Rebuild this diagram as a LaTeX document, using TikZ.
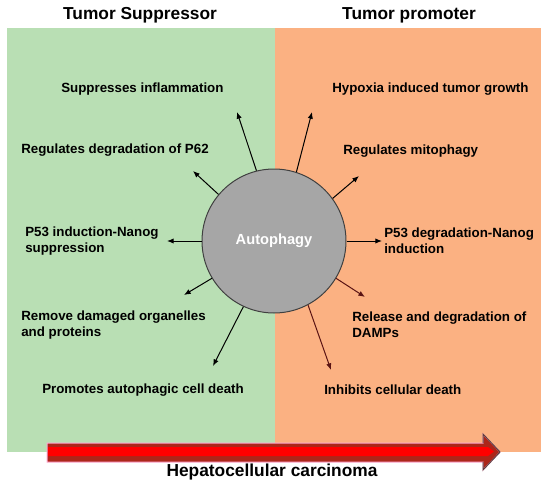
\documentclass[tikz,border=0pt]{standalone}
\usepackage{fontspec}
\setmainfont{Liberation Sans}
\usetikzlibrary{arrows.meta}
\definecolor{panelgreen}{RGB}{185,223,180}
\definecolor{panelorange}{RGB}{251,177,130}
\definecolor{circlegray}{RGB}{166,166,166}
\definecolor{bandred}{RGB}{255,0,0}
\definecolor{bodyred}{RGB}{172,38,26}
\definecolor{glowpink}{RGB}{255,170,210}
\definecolor{headline}{RGB}{95,65,65}
\definecolor{darkarrow}{RGB}{90,20,20}

\begin{document}
\begin{tikzpicture}[x=0.75pt, y=-0.75pt,
    effect/.style={font=\fontsize{10}{12}\selectfont\bfseries, anchor=west, inner sep=0pt, align=left},
    heading/.style={font=\fontsize{13}{15}\selectfont\bfseries, inner sep=0pt},
    link/.style={-{Latex[length=5pt,width=4pt]}, line width=0.75pt}]
    % Canvas
    \useasboundingbox (0,0) rectangle (550,485);

    % Panels
    \fill[panelgreen] (7,28) rectangle (275,452);
    \fill[panelorange] (275,28) rectangle (541,452);

    % Headings
    \node[heading] (supp) at (140,15.5) {Tumor Suppressor};
    \node[heading] (prom) at (409,15.5) {Tumor promoter};

    % Autophagy
    \node[circle, fill=circlegray, draw=black!75, line width=0.75pt, minimum size=108pt, inner sep=0pt,
          text=white, font=\fontsize{11}{13}\selectfont\bfseries] (auto) at (274,241) {Autophagy};

    % Suppressor effects
    \node[effect] (inflam) at (61,89) {Suppresses inflammation};
    \node[effect] (ppsix) at (21,150) {Regulates degradation of P62};
    \node[effect] (nanogup) at (25,241) {P53 induction-Nanog\\suppression};
    \node[effect] (organ) at (21,325) {Remove damaged organelles\\and proteins};
    \node[effect] (celldeath) at (42,390) {Promotes autophagic cell death};

    % Promoter effects
    \node[effect] (hypoxia) at (332,89) {Hypoxia induced tumor growth};
    \node[effect] (mito) at (343,151) {Regulates mitophagy};
    \node[effect] (nanogdown) at (384,241) {P53 degradation-Nanog\\induction};
    \node[effect] (damps) at (352,325) {Release and degradation of\\DAMPs};
    \node[effect] (inhibit) at (324,390) {Inhibits cellular death};

    % Arrow tips
    \coordinate (tInflam) at (237,112);
    \coordinate (tPsix) at (193,171);
    \coordinate (tNanogUp) at (167,241);
    \coordinate (tOrgan) at (184,295);
    \coordinate (tDeath) at (213,366);
    \coordinate (tHypoxia) at (312,112);
    \coordinate (tMito) at (359,176);
    \coordinate (tNanogDown) at (382,241);
    \coordinate (tDamps) at (365,297);
    \coordinate (tInhibit) at (331,370);

    % Arrows out of the circle
    \draw[link] (auto.104) -- (tInflam);
    \draw[link] (auto.140) -- (tPsix);
    \draw[link] (auto.180) -- (tNanogUp);
    \draw[link] (auto.211) -- (tOrgan);
    \draw[link] (auto.245) -- (tDeath);
    \draw[link] (auto.72) -- (tHypoxia);
    \draw[link] (auto.36) -- (tMito);
    \draw[link] (auto.0) -- (tNanogDown);
    \draw[link, darkarrow] (auto.329) -- (tDamps);
    \draw[link, darkarrow] (auto.298) -- (tInhibit);

    % Progression arrow
    \draw[glowpink, line width=0.75pt, fill=bodyred] (47,443) -- (483,443) -- (483,434) -- (500,452)
        -- (483,470) -- (483,462) -- (47,462) -- cycle;
    \draw[headline, line width=0.75pt] (483,443) -- (483,434) -- (500,452) -- (483,470) -- (483,462);
    \fill[bandred] (48,447) -- (488,447) -- (494,451.5) -- (488,456) -- (48,456) -- cycle;
    \node[heading] (hcc) at (272,472) {Hepatocellular carcinoma};
\end{tikzpicture}
\end{document}
